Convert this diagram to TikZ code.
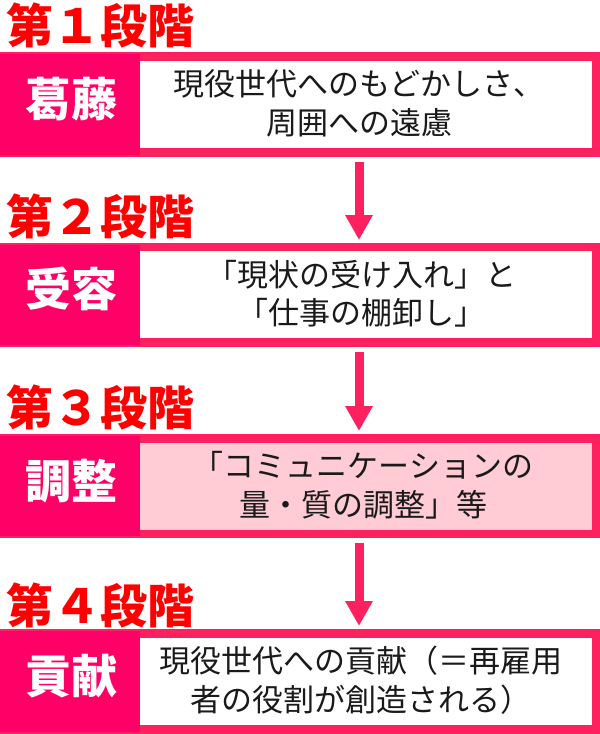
\documentclass[tikz,border=0pt]{standalone}
\usepackage{fontspec}
\setmainfont{Noto Sans CJK JP}
\usetikzlibrary{arrows.meta}
\definecolor{bordercol}{HTML}{FF2060}
\definecolor{panelcol}{HTML}{FF0066}
\definecolor{titlecol}{HTML}{FF0000}
\definecolor{softpink}{HTML}{FFCCD5}
\definecolor{textcol}{HTML}{1A1A1A}
\begin{document}
\begin{tikzpicture}[x=1pt,y=-1pt,
  outerbox/.style={fill=bordercol,minimum width=600pt,inner sep=0pt,outer sep=0pt,anchor=north west},
  panelbox/.style={fill=panelcol,minimum width=140pt,inner sep=0pt,outer sep=0pt,anchor=north west},
  innerbox/.style={fill=white,minimum width=452pt,minimum height=87pt,inner sep=0pt,outer sep=0pt,anchor=north west},
  stagetitle/.style={anchor=west,inner sep=0pt,text=titlecol,font=\bfseries\fontsize{47}{50}\selectfont},
  panellabel/.style={inner sep=0pt,text=white,font=\bfseries\fontsize{46}{50}\selectfont},
  maintext/.style={inner sep=0pt,align=center,text=textcol,font=\fontsize{31}{38.5}\selectfont},
  flowarrow/.style={draw=bordercol,line width=9pt,-{Triangle[width=26pt,length=25pt]},shorten <=5pt,shorten >=3pt}
]
\useasboundingbox (0,0) rectangle (600,734);
\fill[white] (0,0) rectangle (600,734);

% stage 1
\node[stagetitle] (s1) at (6,25) {第１段階};
\node[outerbox,minimum height=105pt] (o1) at (0,52) {};
\node[panelbox,minimum height=101pt] (p1) at (0,54) {};
\node[innerbox] (w1) at (140,61) {};
\node[panellabel] (l1) at (71,99) {葛藤};
\node[maintext] (t1) at (359,103.5) {現役世代へのもどかしさ、\\周囲への遠慮};

% stage 2
\node[stagetitle] (s2) at (6,216) {第２段階};
\node[outerbox,minimum height=104pt] (o2) at (0,243) {};
\node[panelbox,minimum height=100pt] (p2) at (0,245) {};
\node[innerbox] (w2) at (140,251) {};
\node[panellabel] (l2) at (71,289) {受容};
\node[maintext] (t2) at (361,293.5) {「現状の受け入れ」と\\「仕事の棚卸し」};

% stage 3
\node[stagetitle] (s3) at (6,407) {第３段階};
\node[outerbox,minimum height=104pt] (o3) at (0,434) {};
\node[panelbox,minimum height=100pt] (p3) at (0,436) {};
\node[innerbox,fill=softpink] (w3) at (140,443) {};
\node[panellabel] (l3) at (71,481) {調整};
\node[maintext] (t3) at (363,485) {「コミュニケーションの\\量・質の調整」等};

% stage 4
\node[stagetitle] (s4) at (6,605) {第４段階};
\node[outerbox,minimum height=105pt] (o4) at (0,629) {};
\node[panelbox,minimum height=101pt] (p4) at (0,631) {};
\node[innerbox] (w4) at (140,638) {};
\node[panellabel] (l4) at (71,676) {貢献};
\node[maintext] (t4) at (361,680) {現役世代への貢献（＝再雇用\\者の役割が創造される）};

% arrows
\coordinate (ax) at (359,0);
\draw[flowarrow] (o1.south -| ax) -- (o2.north -| ax);
\draw[flowarrow] (o2.south -| ax) -- (o3.north -| ax);
\draw[flowarrow] (o3.south -| ax) -- (o4.north -| ax);
\end{tikzpicture}
\end{document}
